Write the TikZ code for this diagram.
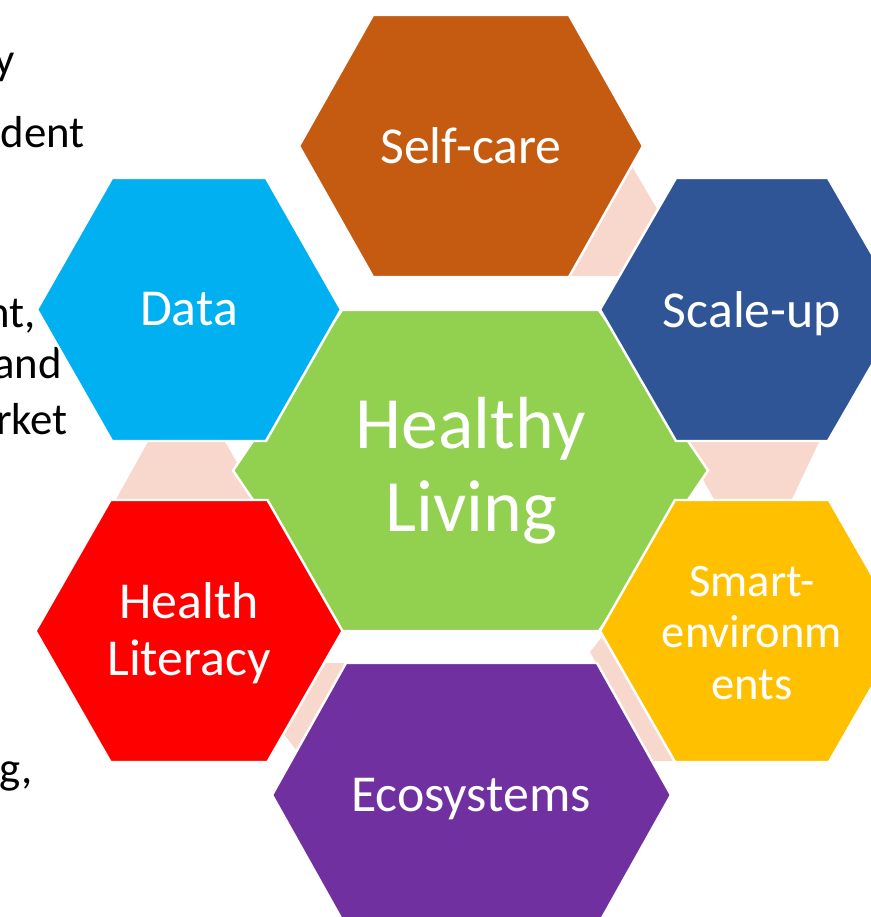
\documentclass[tikz,border=0pt]{standalone}
\usepackage{fontspec}
\setmainfont{Carlito}
\definecolor{Rust}{HTML}{C55A11}
\definecolor{Sky}{HTML}{00B0F0}
\definecolor{Navy}{HTML}{2F5597}
\definecolor{Lime}{HTML}{92D050}
\definecolor{Scarlet}{HTML}{FF0000}
\definecolor{Amber}{HTML}{FFC000}
\definecolor{Violet}{HTML}{7030A0}
\definecolor{Blush}{HTML}{F8D7CC}

\tikzset{
  hexedge/.style={draw=white,line width=1.4pt},
  cell/.style={text=white,align=center,font=\fontsize{29.5}{32.5}\selectfont},
  side/.style={anchor=base east,text=black,inner sep=0pt,font=\fontsize{25.5}{30}\selectfont}
}

% hexagon: centre x, centre y, half width, half height, corner inset, colour
\newcommand{\hexcell}[6]{%
  \path[fill=#6,hexedge] ({#1-#3},#2) -- ({#1-#3+#5},{#2-#4}) -- ({#1+#3-#5},{#2-#4})
    -- ({#1+#3},#2) -- ({#1+#3-#5},{#2+#4}) -- ({#1-#3+#5},{#2+#4}) -- cycle;}

\begin{document}
\begin{tikzpicture}[x=0.02cm,y=-0.02cm]
  \useasboundingbox (0,0) rectangle (871,917);
  \clip (0,0) rectangle (871,917);

  % text running in from the left
  \node[side] (frag1) at (15,74) {y};
  \node[side] (frag2) at (85,147) {dent};
  \node[side] (frag3) at (36,327) {nt,};
  \node[side] (frag4) at (62,378) {and};
  \node[side] (frag5) at (68,434) {rket};
  \node[side] (frag6) at (33,783) {g,};

  % pale links behind the cells
  \fill[Blush] (630,163) -- (657,209) -- (618,276) -- (566,276) -- cycle;
  \fill[Blush] (681,440) -- (820,440) -- (791,501) -- (715,501) -- cycle;
  \fill[Blush] (149,440) -- (224,440) -- (259,501) -- (115,501) -- cycle;
  \fill[Blush] (323,663) -- (347,663) -- (297,751) -- (283,733) -- cycle;
  \fill[Blush] (590,652) -- (602,637) -- (674,761) -- (652,761) -- cycle;

  % centre cell first, the ring on top
  \hexcell{470.5}{470.5}{237.5}{160.5}{109}{Lime}
  \hexcell{471}{146}{172}{131}{74}{Rust}
  \hexcell{189}{309.5}{152}{131.5}{75}{Sky}
  \hexcell{752}{309.5}{152}{131.5}{76}{Navy}
  \hexcell{189}{631}{153.5}{131}{75}{Scarlet}
  \hexcell{752}{631}{152}{131}{75}{Amber}
  \hexcell{471.5}{795}{199.5}{132}{74}{Violet}

  \node[cell,font=\fontsize{42}{47}\selectfont] (core) at (471,471) {Healthy\\Living};
  \node[cell] (selfcare) at (471,146) {Self-care};
  \node[cell] (data) at (189,309) {Data};
  \node[cell] (scaleup) at (752,314) {Scale-up};
  \node[cell] (literacy) at (189,633) {Health\\Literacy};
  \node[cell,font=\fontsize{26.5}{29.5}\selectfont] (smartenv) at (752,633) {Smart-\\environm\\ents};
  \node[cell] (ecosys) at (471,799) {Ecosystems};
\end{tikzpicture}
\end{document}
